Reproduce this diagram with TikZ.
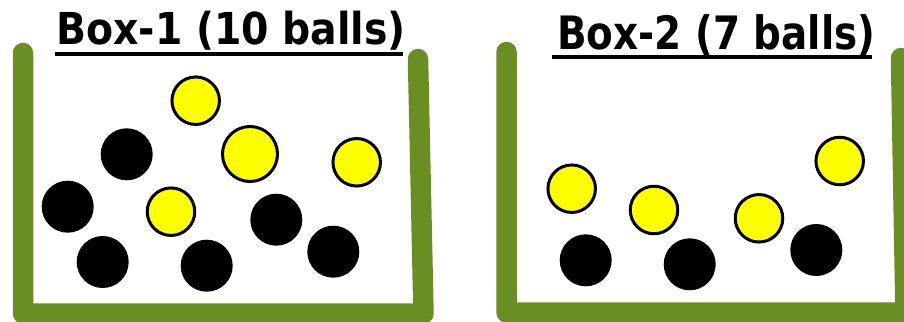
\documentclass[tikz,border=0pt]{standalone}
\usepackage{fontspec}
\setmainfont{DejaVu Sans}
\definecolor{wallgreen}{RGB}{107,142,35}
\definecolor{ballyellow}{RGB}{255,255,0}
\begin{document}
\begin{tikzpicture}[x=1pt,y=-1pt,
  wall/.style={draw=wallgreen,line width=20.5pt,line cap=round,line join=round},
  yball/.style={circle,inner sep=0pt,fill=ballyellow,draw=black,line width=3pt,minimum size=47.5pt},
  bball/.style={circle,inner sep=0pt,fill=black,minimum size=52pt},
  title/.style={inner sep=0pt,anchor=base west},
  uline/.style={draw=black,line width=4pt}]
\useasboundingbox (0,0) rectangle (904,321);
% walls of box 1
\coordinate (a1) at (23,53);
\coordinate (a2) at (23,313.5);
\coordinate (a3) at (423.5,313.5);
\coordinate (a4) at (418,59);
\draw[wall] (a1) -- (a2) -- (a3) -- (a4);
% walls of box 2
\coordinate (b1) at (506.5,52);
\coordinate (b2) at (506.5,312.5);
\coordinate (b3) at (905.5,312.5);
\coordinate (b4) at (901,58);
\draw[wall] (b1) -- (b2) -- (b3) -- (b4);
% titles
\node[title] (t1) at (56,45) {\scalebox{0.895}[1]{\fontsize{44}{44}\selectfont\bfseries Box-1 (10 balls)}};
\coordinate (u1a) at (55,54);
\coordinate (u1b) at (403,54);
\draw[uline] (u1a) -- (u1b);
\node[title] (t2) at (557,49.5) {\scalebox{0.845}[1]{\fontsize{46}{46}\selectfont\bfseries Box-2 (7 balls)}};
\coordinate (u2a) at (552,57);
\coordinate (u2b) at (872,57);
\draw[uline] (u2a) -- (u2b);
% box 1 balls
\node[yball] (y11) at (195.7,100.7) {};
\node[yball,minimum size=55pt] (y12) at (250,154) {};
\node[yball] (y13) at (356.7,162.3) {};
\node[yball] (y14) at (171,211.7) {};
\node[bball] (k11) at (126.7,154.3) {};
\node[bball] (k12) at (67.7,206.7) {};
\node[bball] (k13) at (102.7,262) {};
\node[bball] (k14) at (206.7,265.7) {};
\node[bball] (k15) at (276.3,219.7) {};
\node[bball] (k16) at (333.3,251.7) {};
% box 2 balls
\node[yball] (y21) at (571.7,188.7) {};
\node[yball] (y22) at (654,210) {};
\node[yball] (y23) at (759,218.3) {};
\node[yball] (y24) at (839.7,161) {};
\node[bball] (k21) at (585.7,260.3) {};
\node[bball] (k22) at (689.7,264.3) {};
\node[bball] (k23) at (816.3,250) {};
\end{tikzpicture}
\end{document}
